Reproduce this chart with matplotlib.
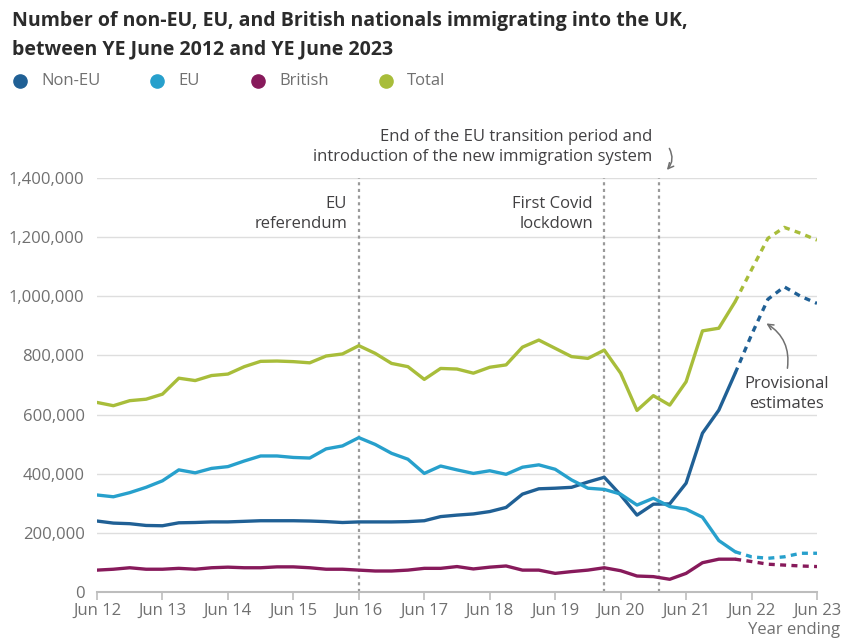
import matplotlib
matplotlib.use("Agg")
import matplotlib.pyplot as plt
from matplotlib.lines import Line2D
from matplotlib.ticker import FuncFormatter

# quarterly, year ending Jun 12 .. Jun 23 (thousands)
quarters = ["Jun 12", "Sep 12", "Dec 12", "Mar 13", "Jun 13", "Sep 13", "Dec 13", "Mar 14",
            "Jun 14", "Sep 14", "Dec 14", "Mar 15", "Jun 15", "Sep 15", "Dec 15", "Mar 16",
            "Jun 16", "Sep 16", "Dec 16", "Mar 17", "Jun 17", "Sep 17", "Dec 17", "Mar 18",
            "Jun 18", "Sep 18", "Dec 18", "Mar 19", "Jun 19", "Sep 19", "Dec 19", "Mar 20",
            "Jun 20", "Sep 20", "Dec 20", "Mar 21", "Jun 21", "Sep 21", "Dec 21", "Mar 22",
            "Jun 22", "Sep 22", "Dec 22", "Mar 23", "Jun 23"]

non_eu = [240, 233, 231, 225, 224, 234, 235, 237, 237, 239, 241, 241, 241, 240, 238, 235,
          237, 237, 237, 238, 241, 255, 260, 264, 272, 286, 331, 349, 351, 354, 372, 388,
          328, 260, 297, 298, 368, 537, 615, 740, 870, 990, 1032, 1000, 976]
eu = [328, 322, 336, 354, 376, 413, 403, 418, 424, 443, 460, 460, 455, 453, 484, 494,
      522, 499, 469, 449, 401, 426, 413, 401, 410, 398, 422, 430, 415, 379, 351, 347,
      331, 294, 317, 289, 280, 253, 174, 136, 119, 114, 119, 131, 131]
british = [74, 77, 82, 77, 77, 80, 77, 82, 84, 82, 82, 85, 85, 82, 77, 77,
           74, 71, 71, 74, 80, 80, 86, 78, 84, 88, 74, 74, 63, 69, 74, 82,
           72, 54, 52, 43, 63, 99, 111, 111, 103, 94, 91, 88, 86]
total = [641, 630, 647, 652, 669, 723, 715, 732, 737, 762, 780, 781, 779, 775, 798, 805,
         833, 807, 773, 762, 719, 756, 754, 740, 760, 768, 828, 852, 824, 796, 790, 818,
         740, 614, 664, 632, 711, 883, 892, 982, 1090, 1196, 1233, 1213, 1190]

provisional_from = "Mar 22"
year_labels = ["Jun 12", "Jun 13", "Jun 14", "Jun 15", "Jun 16", "Jun 17", "Jun 18",
               "Jun 19", "Jun 20", "Jun 21", "Jun 22", "Jun 23"]
events = [16, 31, 34.33]  # EU referendum, first lockdown, end of transition (Jan 21)

series = {
    "Non-EU": (non_eu, "#206095"),
    "EU": (eu, "#27a0cc"),
    "British": (british, "#871a5b"),
    "Total": (total, "#a8bd3a"),
}

plt.rcParams["font.family"] = ["Open Sans", "DejaVu Sans"]
W, H = 843, 639
fig = plt.figure(figsize=(W / 100, H / 100), dpi=100)
ax = fig.add_axes([97 / W, 1 - 592 / H, 720 / W, 414 / H])


def fp(x, y):
    return (x / W, 1 - y / H)


x = list(range(len(quarters)))
cut = quarters.index(provisional_from)
for name, (vals, col) in series.items():
    v = [a * 1000 for a in vals]
    ax.plot(x[:cut + 1], v[:cut + 1], color=col, lw=2.4, solid_capstyle="round",
            solid_joinstyle="round", zorder=3)
    ax.plot(x[cut:], v[cut:], color=col, lw=2.4, dashes=(1.8, 1.6), zorder=3)

for e in events:
    ax.axvline(e, color="#9a9a9a", lw=1.6, dashes=(1.4, 1.6), zorder=2)

ax.set_xlim(0, len(quarters) - 1)
ax.set_ylim(0, 1400000)
ax.set_yticks(range(0, 1400001, 200000))
ax.yaxis.set_major_formatter(FuncFormatter(lambda v, p: f"{int(v):,}"))
ax.set_xticks([quarters.index(q) for q in year_labels])
ax.set_xticklabels(year_labels)
ax.grid(axis="y", color="#dedede", lw=1)
ax.set_axisbelow(True)
for s in ["top", "right", "left"]:
    ax.spines[s].set_visible(False)
ax.spines["bottom"].set_color("#bdbdbd")
ax.spines["bottom"].set_linewidth(1.5)
ax.tick_params(axis="y", length=0, pad=9, labelsize=12, labelcolor="#707070")
ax.tick_params(axis="x", length=6, width=1.2, color="#bdbdbd", pad=2,
               labelsize=12, labelcolor="#707070")

fig.text(*fp(840, 630), "Year ending", ha="right", va="center", fontsize=12, color="#707070")

# title and legend
fig.text(*fp(12, 21), "Number of non-EU, EU, and British nationals immigrating into the UK,",
         fontsize=14, fontweight="bold", color="#2b2b2b", va="center")
fig.text(*fp(12, 49), "between YE June 2012 and YE June 2023",
         fontsize=14, fontweight="bold", color="#2b2b2b", va="center")
legend_x = [20, 157, 258, 386]
for lx, (name, (vals, col)) in zip(legend_x, series.items()):
    fig.add_artist(Line2D([lx / W], [1 - 81 / H], marker="o", markersize=9.5, color=col,
                          linestyle="none", transform=fig.transFigure))
    fig.text(*fp(lx + 21, 81), name, fontsize=12, color="#707070", va="center")

# annotations
ann = dict(fontsize=12, color="#414042", ha="right", va="center", linespacing=1.3)
fig.text(*fp(347, 214), "EU\nreferendum", **ann)
fig.text(*fp(593, 214), "First Covid\nlockdown", **ann)
fig.text(*fp(652, 147), "End of the EU transition period and\nintroduction of the new immigration system", **ann)
fig.text(*fp(787, 394), "Provisional\nestimates", fontsize=12, color="#414042",
         ha="center", va="center", linespacing=1.3)

ax.annotate("", xy=fp(764, 322), xycoords="figure fraction",
            xytext=fp(787, 371), textcoords="figure fraction",
            arrowprops=dict(arrowstyle="->", color="#707070", lw=1.1,
                            connectionstyle="arc3,rad=0.35"))
ax.annotate("", xy=fp(665, 172), xycoords="figure fraction",
            xytext=fp(668, 146), textcoords="figure fraction",
            arrowprops=dict(arrowstyle="->", color="#707070", lw=1.1,
                            connectionstyle="arc3,rad=-0.4"))

fig.savefig("out.png", dpi=100)
